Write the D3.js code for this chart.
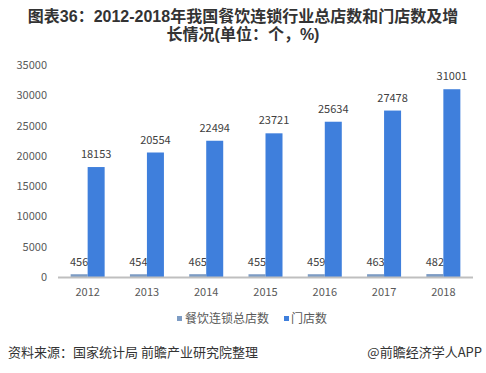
<!DOCTYPE html>
<html><head><meta charset="utf-8">
<script src="https://cdn.jsdelivr.net/npm/d3@7"></script>
<style>body{margin:0;background:#fff;} svg{display:block;font-family:"Noto Sans CJK SC","Noto Sans",sans-serif;}</style>
</head><body>
<script>
const years = ["2012","2013","2014","2015","2016","2017","2018"];
const totalStores = [456,454,465,455,459,463,482];
const outlets = [18153,20554,22494,23721,25634,27478,31001];
const seriesNames = ["餐饮连锁总店数","门店数"];
const seriesColors = ["#7d9cc4","#3f7fdc"];
const yTicks = [0,5000,10000,15000,20000,25000,30000,35000];
const titleLines = ["图表36：2012-2018年我国餐饮连锁行业总店数和门店数及增","长情况(单位：个，%)"];

const W=486,H=373;
const svg=d3.select("body").append("svg").attr("width",W).attr("height",H);

titleLines.forEach((t,i)=>{
  svg.append("text").attr("text-anchor","middle")
    .attr("font-family","'Liberation Sans','Noto Sans CJK SC',sans-serif")
    .attr("font-size",16).attr("font-weight","bold").attr("fill","#333")
    .attr("x",243).attr("y",22+i*18).text(t);
});

const x=d3.scaleBand().domain(years).range([58,473]);
const y=d3.scaleLinear().domain([0,35000]).range([277,65]);
const bw=17;

svg.append("g").selectAll("text").data(yTicks).join("text")
  .attr("x",47).attr("y",d=>y(d)+4).attr("text-anchor","end")
  .attr("font-size",11).attr("fill","#595959").text(d=>d);

const groups=svg.append("g");
years.forEach((yr,i)=>{
  const c=x(yr)+x.bandwidth()/2;
  [totalStores[i],outlets[i]].forEach((v,j)=>{
    const bx=c-bw+j*bw;
    groups.append("rect").attr("x",bx).attr("y",y(v)).attr("width",bw)
      .attr("height",y(0)-y(v)).attr("fill",seriesColors[j]);
    groups.append("text").attr("x",bx+bw/2).attr("y",y(v)-(j===0?8:9))
      .attr("text-anchor","middle").attr("font-size",11).attr("fill","#404040").text(v);
  });
});

svg.append("line").attr("x1",58).attr("x2",473).attr("y1",277.5).attr("y2",277.5)
  .attr("stroke","#bfbfbf").attr("stroke-width",2);
svg.append("g").selectAll("text").data(years).join("text")
  .attr("x",d=>x(d)+x.bandwidth()/2).attr("y",296).attr("text-anchor","middle")
  .attr("font-size",11).attr("fill","#595959").text(d=>d);

const leg=[{x:177,tx:185},{x:284,tx:291}];
seriesNames.forEach((n,i)=>{
  svg.append("rect").attr("x",leg[i].x).attr("y",316).attr("width",5).attr("height",5).attr("fill",seriesColors[i]);
  svg.append("text").attr("x",leg[i].tx).attr("y",323).attr("font-size",12).attr("fill","#595959").text(n);
});

svg.append("text").attr("x",8).attr("y",357).attr("font-size",13).attr("fill","#333").text("资料来源：国家统计局 前瞻产业研究院整理");
svg.append("text").attr("x",482).attr("y",357).attr("text-anchor","end").attr("font-size",13).attr("fill","#333").text("@前瞻经济学人APP");
</script>
</body></html>
